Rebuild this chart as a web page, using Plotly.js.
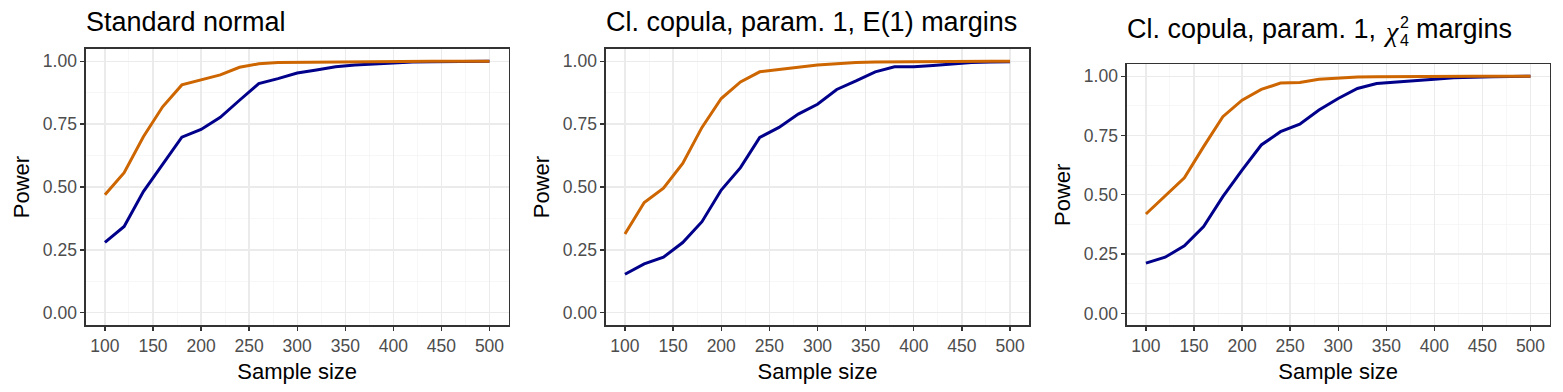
<!DOCTYPE html>
<html>
<head>
<meta charset="utf-8">
<script src="https://cdn.plot.ly/plotly-3.0.1.min.js"></script>
<style>
  body { margin: 0; background: #fff; }
  #power { width: 1563px; height: 392px; }
</style>
</head>
<body>
<div id="power"></div>
<script>
// sample sizes
var sampleSize = [100,120,140,160,180,200,220,240,260,280,300,320,340,360,380,400,420,440,460,480,500];

// Standard normal
var normBlue   = [0.280,0.343,0.482,0.588,0.698,0.729,0.777,0.845,0.911,0.931,0.953,0.965,0.978,0.985,0.990,0.995,0.997,0.998,0.999,0.999,1.000];
var normOrange = [0.469,0.557,0.700,0.819,0.906,0.925,0.946,0.976,0.990,0.995,0.996,0.997,0.998,0.999,0.999,1.000,1.000,1.000,1.000,1.000,1.000];

// Clayton copula, E(1) margins
var expBlue   = [0.153,0.194,0.221,0.279,0.362,0.488,0.577,0.697,0.737,0.790,0.829,0.888,0.922,0.958,0.978,0.978,0.983,0.990,0.995,0.997,0.998];
var expOrange = [0.313,0.438,0.495,0.594,0.737,0.852,0.918,0.958,0.967,0.975,0.985,0.990,0.995,0.997,0.998,0.999,0.999,1.000,1.000,1.000,1.000];

// Clayton copula, chi-square(4) margins
var chiBlue   = [0.212,0.237,0.285,0.366,0.492,0.604,0.710,0.766,0.798,0.857,0.906,0.948,0.969,0.976,0.980,0.987,0.993,0.997,0.998,0.999,1.000];
var chiOrange = [0.419,0.496,0.572,0.703,0.829,0.899,0.944,0.971,0.973,0.987,0.993,0.997,0.998,0.999,1.000,1.000,1.000,1.000,1.000,1.000,1.000];

var blue = '#00008B';
var orange = '#CD6600';
var W = 1563, H = 392;

function line(x, y, col, n) {
    return {
        x: x, y: y, mode: 'lines', type: 'scatter',
        line: {color: col, width: 3},
        xaxis: 'x' + n, yaxis: 'y' + n,
        hoverinfo: 'x+y', showlegend: false
    };
}

var data = [
    line(sampleSize, normBlue, blue, ''),
    line(sampleSize, normOrange, orange, ''),
    line(sampleSize, expBlue, blue, '2'),
    line(sampleSize, expOrange, orange, '2'),
    line(sampleSize, chiBlue, blue, '3'),
    line(sampleSize, chiOrange, orange, '3')
];

function px(v) { return v / W; }
function py(v) { return 1 - v / H; }

var tickFont = {family: 'Liberation Sans, Arial, sans-serif', size: 17.5, color: '#4D4D4D'};
var titleFont = {family: 'Liberation Sans, Arial, sans-serif', size: 22, color: '#000'};

function xax(l, r, anchor) {
    return {
        domain: [px(l), px(r)], anchor: anchor,
        range: [80, 520], tickvals: [100,150,200,250,300,350,400,450,500],
        ticks: 'outside', ticklen: 4, tickwidth: 1.3, tickcolor: '#333333',
        tickfont: tickFont,
        showgrid: true, gridcolor: '#EBEBEB', gridwidth: 1.3,
        minor: {tickvals: [125,175,225,275,325,375,425,475], showgrid: true, gridcolor: '#F3F3F3', gridwidth: 0.7, ticks: ''},
        showline: true, mirror: true, linecolor: '#333333', linewidth: 1.3,
        zeroline: false,
        title: {text: 'Sample size', font: titleFont, standoff: 9}
    };
}
function yax(top, bot, anchor) {
    return {
        domain: [py(bot), py(top)], anchor: anchor,
        range: [-0.05, 1.05], tickvals: [0, 0.25, 0.5, 0.75, 1], tickformat: '.2f',
        ticks: 'outside', ticklen: 4, tickwidth: 1.3, tickcolor: '#333333',
        tickfont: tickFont,
        showgrid: true, gridcolor: '#EBEBEB', gridwidth: 1.3,
        minor: {tickvals: [0.125, 0.375, 0.625, 0.875], showgrid: true, gridcolor: '#F3F3F3', gridwidth: 0.7, ticks: ''},
        showline: true, mirror: true, linecolor: '#333333', linewidth: 1.3,
        zeroline: false,
        title: {text: 'Power', font: titleFont, standoff: 7}
    };
}

var headFont = {family: 'Liberation Sans, Arial, sans-serif', size: 27, color: '#000'};
var chiFont = {family: 'Liberation Serif, Times New Roman, serif', size: 28, color: '#000'};
var smallFont = {family: 'Liberation Sans, Arial, sans-serif', size: 16, color: '#000'};

function note(text, x, y, font) {
    return {
        text: text, xref: 'paper', yref: 'paper',
        x: px(x), y: py(y), xanchor: 'left', yanchor: 'middle',
        showarrow: false, font: font, borderpad: 0
    };
}

var layout = {
    width: W, height: H,
    margin: {l: 0, r: 0, t: 0, b: 0},
    paper_bgcolor: '#fff', plot_bgcolor: '#fff',
    font: {family: 'Liberation Sans, Arial, sans-serif'},
    xaxis: xax(85.7, 508.7, 'y'),
    yaxis: yax(48.7, 325.3, 'x'),
    xaxis2: xax(605.7, 1029.3, 'y2'),
    yaxis2: yax(48.7, 325.3, 'x2'),
    xaxis3: xax(1126.7, 1549.7, 'y3'),
    yaxis3: yax(64.3, 325.3, 'x3'),
    annotations: [
        note('Standard normal', 85, 21.7, headFont),
        note('Cl. copula, param. 1, E(1) margins', 605, 21.7, headFont),
        note('Cl. copula, param. 1,', 1126, 29.5, headFont),
        note('<i>χ</i>', 1382, 31, chiFont),
        note('2', 1399, 23, smallFont),
        note('4', 1399, 41, smallFont),
        note('margins', 1415, 29.5, headFont)
    ]
};

Plotly.newPlot('power', data, layout, {displayModeBar: false, staticPlot: true});
</script>
</body>
</html>
